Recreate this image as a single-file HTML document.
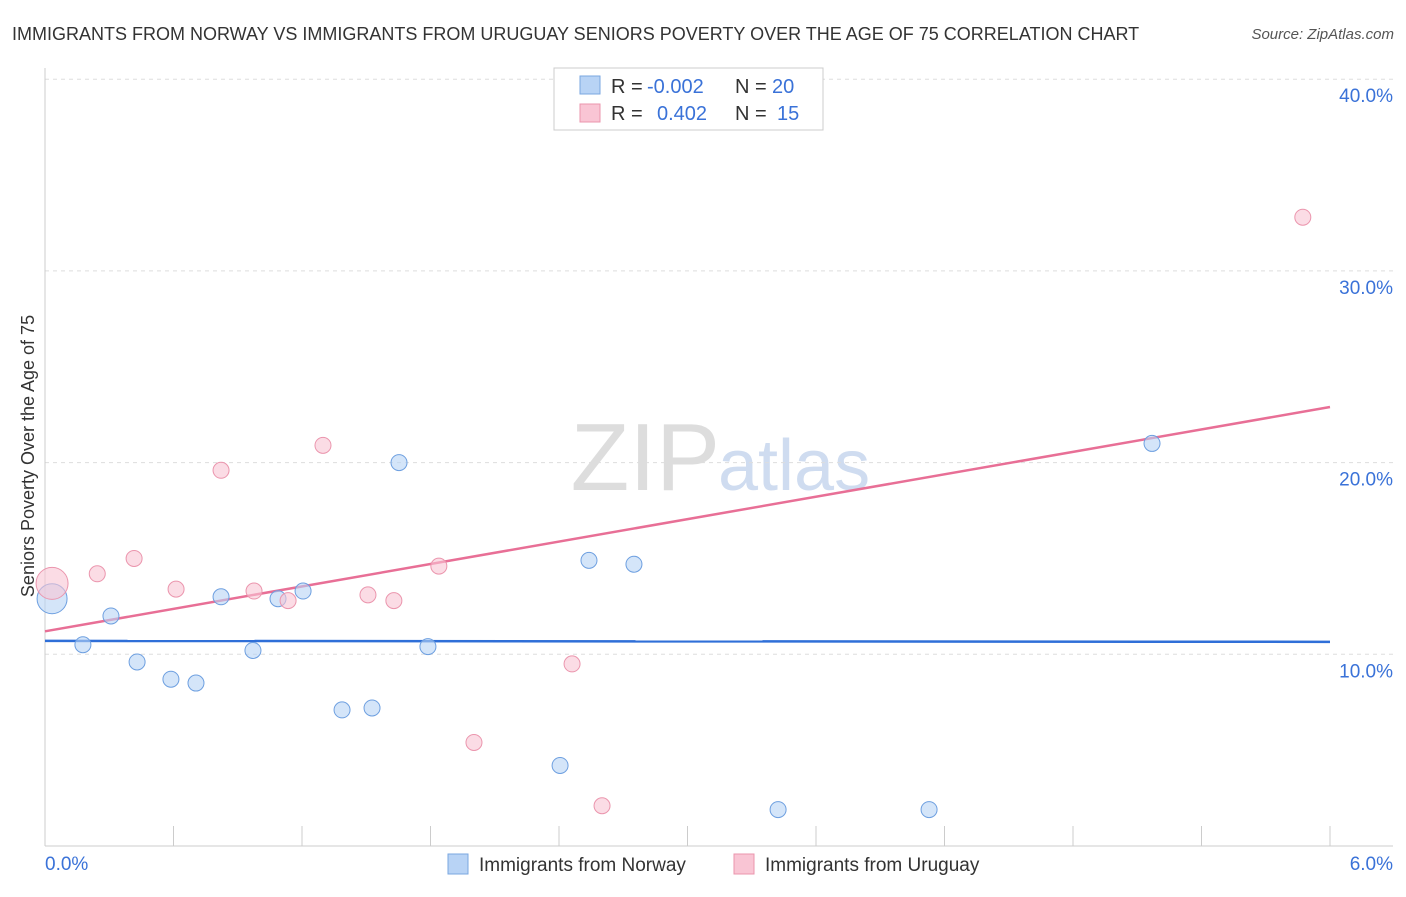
<!DOCTYPE html>
<html><head><meta charset="utf-8"><style>
body{margin:0;background:#fff;font-family:"Liberation Sans",sans-serif;}
svg text{font-family:"Liberation Sans",sans-serif;}
</style></head><body>
<svg id="c" width="1406" height="892">
<text x="12" y="40" font-size="18" fill="#333">IMMIGRANTS FROM NORWAY VS IMMIGRANTS FROM URUGUAY SENIORS POVERTY OVER THE AGE OF 75 CORRELATION CHART</text>
<text x="1394" y="39" font-size="15" fill="#555" font-style="italic" text-anchor="end">Source: ZipAtlas.com</text>
<text x="34" y="456" font-size="18" fill="#333" text-anchor="middle" transform="rotate(-90 34 456)">Seniors Poverty Over the Age of 75</text>
<text x="720" y="490" font-size="96" fill="#ddd" text-anchor="end" font-family="Liberation Serif">ZIP</text>
<text x="718" y="490" font-size="72" fill="#cfdcf0">atlas</text>
<g id="grid"></g><g id="axes"></g><g id="lines"></g><g id="pts"></g>
<g>
<rect x="554" y="68" width="269" height="62" fill="#fff" stroke="#ccc"/>
<rect x="580" y="76" width="20" height="18" fill="#b8d3f5" stroke="#7aa7e0"/>
<text x="611" y="93" font-size="20" fill="#333">R = </text><text x="647" y="93" font-size="20" fill="#3a72d8">-0.002</text>
<text x="735" y="93" font-size="20" fill="#333">N = </text><text x="772" y="93" font-size="20" fill="#3a72d8">20</text>
<rect x="580" y="104" width="20" height="18" fill="#f9c5d4" stroke="#eb95ad"/>
<text x="611" y="120" font-size="20" fill="#333">R = </text><text x="657" y="120" font-size="20" fill="#3a72d8">0.402</text>
<text x="735" y="120" font-size="20" fill="#333">N = </text><text x="777" y="120" font-size="20" fill="#3a72d8">15</text>
</g>
<g>
<rect x="448" y="854" width="20" height="20" fill="#b8d3f5" stroke="#7aa7e0"/>
<text x="479" y="871" font-size="19" fill="#333">Immigrants from Norway</text>
<rect x="734" y="854" width="20" height="20" fill="#f9c5d4" stroke="#eb95ad"/>
<text x="765" y="871" font-size="19" fill="#333">Immigrants from Uruguay</text>
</g>
<text x="45" y="870" font-size="19" fill="#3a72d8">0.0%</text>
<text x="1393" y="870" font-size="19" fill="#3a72d8" text-anchor="end">6.0%</text>
</svg>
<script>
const yTicks=[10,20,30,40];
const yTickLabels=["10.0%","20.0%","30.0%","40.0%"];
const norwayX=[0.033,0.177,0.308,0.43,0.588,0.705,0.822,0.971,1.088,1.205,1.387,1.527,1.653,1.788,2.405,2.54,2.75,3.423,4.128,5.169];
const norwayY=[12.9,10.5,12.0,9.6,8.7,8.5,13.0,10.2,12.9,13.3,7.1,7.2,20.0,10.4,4.2,14.9,14.7,1.9,1.9,21.0];
const norwaySize=[15,8,8,8,8,8,8,8,8,8,8,8,8,8,8,8,8,8,8,8];
const uruguayX=[0.033,0.244,0.416,0.612,0.822,0.976,1.135,1.298,1.508,1.629,1.839,2.003,2.461,2.601,5.873];
const uruguayY=[13.7,14.2,15.0,13.4,19.6,13.3,12.8,20.9,13.1,12.8,14.6,5.4,9.5,2.1,32.8];
const uruguaySize=[16,8,8,8,8,8,8,8,8,8,8,8,8,8,8];
const norwayFit=[10.7,10.65];
const uruguayFit=[11.2,22.9];
const X=v=>45+v/6*1285, Y=v=>846-v*19.17;
const NS="http://www.w3.org/2000/svg";
function mk(p,t,a){const e=document.createElementNS(NS,t);for(const k in a)e.setAttribute(k,a[k]);document.getElementById(p).appendChild(e);return e;}
yTicks.forEach((t,i)=>{
 const g=mk('grid','line',{x1:45,x2:1393,y1:Y(t),y2:Y(t),stroke:'#ddd','stroke-dasharray':'4,4'});
 
 
 const l=mk('grid','text',{x:1393,y:Y(t)+23,'font-size':19,fill:'#3a72d8','text-anchor':'end'});
 l.textContent=yTickLabels[i];
 
 
});
const ax=mk('axes','line',{x1:45,x2:1393,y1:846,y2:846,stroke:'#ccc'});


const ay=mk('axes','line',{x1:45,x2:45,y1:68,y2:846,stroke:'#ccc'});


for(let i=0;i<=10;i++){const t=mk('axes','line',{x1:X(i*0.6),x2:X(i*0.6),y1:826,y2:846,stroke:'#ccc'});
 
 }
const bl=mk('lines','line',{x1:X(0),x2:X(6),y1:Y(norwayFit[0]),y2:Y(norwayFit[1]),stroke:'#2f6fd8','stroke-width':2.5});


const pl=mk('lines','line',{x1:X(0),x2:X(6),y1:Y(uruguayFit[0]),y2:Y(uruguayFit[1]),stroke:'#e86f96','stroke-width':2.5});


norwayX.forEach((x,i)=>{const c=mk('pts','circle',{cx:X(x),cy:Y(norwayY[i]),r:norwaySize[i],fill:'rgba(184,211,245,0.6)',stroke:'#6d9fe0'});
 
 });
uruguayX.forEach((x,i)=>{const c=mk('pts','circle',{cx:X(x),cy:Y(uruguayY[i]),r:uruguaySize[i],fill:'rgba(249,197,212,0.6)',stroke:'#eb95ad'});
 
 });
</script>
</body></html>
